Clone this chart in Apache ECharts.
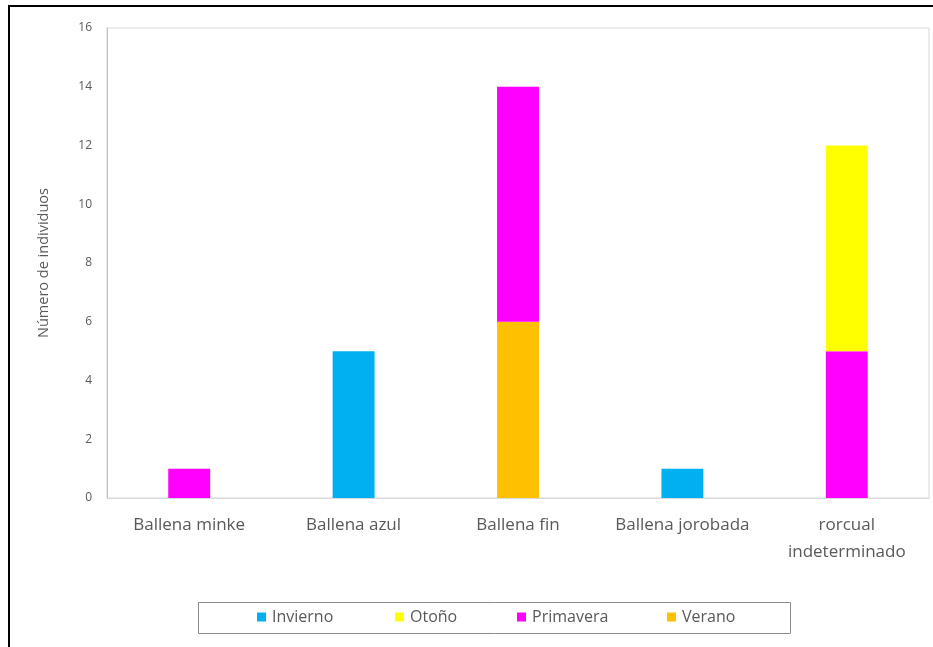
<!DOCTYPE html>
<html>
<head>
<meta charset="utf-8">
<script src="https://cdn.jsdelivr.net/npm/echarts@6/dist/echarts.min.js"></script>
<style>
    html, body { margin: 0; padding: 0; background: #fff; }
    #id-div-chart { width: 933px; height: 647px; }
</style>
</head>
<body>
<div id="id-div-chart"></div>
<script>
// datos
const categorias = ['Ballena minke', 'Ballena azul', 'Ballena fin', 'Ballena jorobada', 'rorcual\nindeterminado']
const invierno = [0, 5, 0, 1, 0]
const otono = [0, 0, 0, 0, 7]
const primavera = [1, 0, 8, 0, 5]
const verano = [0, 0, 6, 0, 0]
const ticksY = [0, 2, 4, 6, 8, 10, 12, 14, 16]
const leyenda = ['Invierno', 'Otoño', 'Primavera', 'Verano']

const colores = {
    Invierno: '#00b0f0',
    Otoño: '#ffff00',
    Primavera: '#ff00ff',
    Verano: '#ffc000',
}

const gris = '#595959'
const fuente = 'Open Sans'

// una serie apilada, los ceros no se dibujan
const serie = function (name, values) {
    return {
        name: name,
        type: 'bar',
        stack: 'total',
        barWidth: '25.5%',
        itemStyle: { color: colores[name] },
        data: values.map(v => v === 0 ? null : v),
    }
}

// cada entrada de la leyenda en su hueco, como en excel
const formattedLegend = function () {
    let xs = [257, 395, 517, 667]
    let l = []
    for (let i = 0; i < leyenda.length; i++) {
        l.push({
            data: [leyenda[i]],
            left: xs[i],
            top: 609,
            itemWidth: 9,
            itemHeight: 9,
            icon: 'rect',
            padding: 0,
            textStyle: { color: gris, fontSize: 16, fontFamily: fuente, padding: [0, 0, 0, 1] },
        })
    }
    return l
}

const formattedOption = function () {
    let option = {
        animation: false,
        textStyle: { fontFamily: fuente },
        grid: {
            left: 107,
            right: 4,
            top: 28,
            bottom: 149,
            show: true,
            borderColor: '#d9d9d9',
            borderWidth: 1,
        },
        legend: formattedLegend(),
        xAxis: {
            type: 'category',
            data: categorias,
            axisLine: { lineStyle: { color: '#d9d9d9' } },
            axisTick: { show: false },
            axisLabel: {
                interval: 0,
                color: gris,
                fontSize: 17,
                lineHeight: 27,
                margin: 14,
                fontFamily: fuente,
            },
        },
        yAxis: {
            type: 'value',
            min: ticksY[0],
            max: ticksY[ticksY.length - 1],
            interval: 2,
            name: 'Número de individuos',
            nameLocation: 'middle',
            nameGap: 56,
            nameTextStyle: { color: gris, fontSize: 14.5, fontFamily: fuente },
            axisLine: { show: true, lineStyle: { color: '#bfbfbf' } },
            axisTick: { show: false },
            splitLine: { show: false },
            axisLabel: { color: gris, fontSize: 12, margin: 15, fontFamily: fuente },
        },
        graphic: [
            {
                type: 'rect',
                shape: { x: 9, y: 6, width: 1000, height: 1000 },
                style: { fill: 'none', stroke: '#000', lineWidth: 2 },
                silent: true,
            },
            {
                type: 'rect',
                shape: { x: 198.5, y: 602.5, width: 592, height: 31 },
                style: { fill: 'none', stroke: '#8c8c8c', lineWidth: 1 },
                silent: true,
            },
        ],
        series: [
            serie('Verano', verano),
            serie('Primavera', primavera),
            serie('Otoño', otono),
            serie('Invierno', invierno),
        ],
    }
    return option
}

const main = function () {
    let chart = echarts.init(document.querySelector('#id-div-chart'))
    chart.setOption(formattedOption())
}

main()
</script>
</body>
</html>
